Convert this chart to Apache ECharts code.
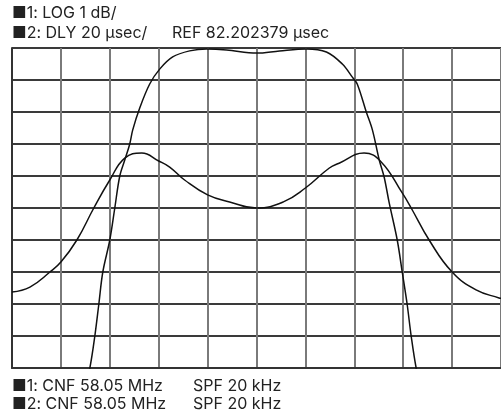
<!DOCTYPE html>
<html><head><meta charset="utf-8">
<script src="https://cdn.jsdelivr.net/npm/echarts@6/dist/echarts.min.js"></script>
<style>html,body{margin:0;padding:0;background:#fff}#c{width:501px;height:414px}</style>
</head><body><div id="c"></div>
<script>
// Trace 1: LOG magnitude, values in screen divisions [x, y]
const trace1 = [
  [1.45,-0.9],[1.592,0],[1.694,1.0],[1.776,2.0],[1.857,3.0],[2.0,4.0],[2.102,5.0],[2.204,6.0],
  [2.306,6.5],[2.408,7.0],[2.469,7.44],[2.612,8.125],[2.816,8.875],[3.02,9.34],[3.286,9.72],
  [3.633,9.91],[3.98,9.97],[4.39,9.94],[5.0,9.84],[5.47,9.91],[6.02,9.97],[6.43,9.875],
  [6.755,9.5],[6.96,9.09],[7.06,8.875],[7.245,8.0],[7.37,7.44],[7.51,6.5],[7.61,5.97],
  [7.714,5.16],[7.878,4.0],[7.98,3.0],[8.08,2.0],[8.163,1.0],[8.265,0],[8.4,-0.9]
];
// Trace 2: DLY group delay
const trace2 = [
  [0,2.375],[0.367,2.53],[0.776,3.0],[1.0,3.31],[1.327,4.0],[1.673,5.0],[2.0,5.875],
  [2.306,6.56],[2.653,6.72],[3.0,6.47],[3.224,6.28],[3.53,5.875],[4.0,5.41],[4.45,5.19],
  [5.0,5.0],[5.55,5.19],[6.0,5.625],[6.49,6.25],[6.69,6.4],[7.2,6.72],[7.55,6.44],
  [7.98,5.47],[8.163,5.0],[8.53,4.0],[9.0,3.0],[9.49,2.44],[9.96,2.19],[10,2.18]
];
const headerLines = ["■1: LOG 1 dB/", "■2: DLY 20 μsec/"];
const refText = "REF 82.202379 μsec";
const footerCnf = ["■1: CNF 58.05 MHz", "■2: CNF 58.05 MHz"];
const footerSpf = ["SPF 20 kHz", "SPF 20 kHz"];
const divisions = 10;

const font = "Inter, Lato, 'Noto Sans', sans-serif";
const txt = (t, x, y) => ({type:'text', left:x, top:y,
  style:{text:t, fill:'#222', font:'16px ' + font}});

const chart = echarts.init(document.getElementById('c'), null, {renderer:'canvas'});
chart.setOption({
  animation:false,
  grid:{left:12, top:48, width:490, height:320, show:false},
  xAxis:{type:'value', min:0, max:divisions, interval:1,
    axisLine:{show:true, onZero:false, lineStyle:{color:'#333', width:2}},
    axisTick:{show:false}, axisLabel:{show:false},
    splitLine:{show:true, lineStyle:{color:'#7a7a7a', width:2}}},
  yAxis:{type:'value', min:0, max:divisions, interval:1,
    axisLine:{show:true, lineStyle:{color:'#333', width:2}},
    axisTick:{show:false}, axisLabel:{show:false},
    splitLine:{show:true, lineStyle:{color:'#3a3a3a', width:2}}},
  series:[
    {type:'line', data:trace1, smooth:0.35, symbol:'none', clip:true, lineStyle:{color:'#111', width:1.5}},
    {type:'line', data:trace2, smooth:0.45, symbol:'none', clip:true, lineStyle:{color:'#111', width:1.5}}
  ],
  graphic:[
    txt(headerLines[0], 12, 5),
    txt(headerLines[1], 12, 25),
    txt(refText, 172, 25),
    txt(footerCnf[0], 12, 378),
    txt(footerSpf[0], 193, 378),
    txt(footerCnf[1], 12, 396),
    txt(footerSpf[1], 193, 396)
  ]
});
</script></body></html>
